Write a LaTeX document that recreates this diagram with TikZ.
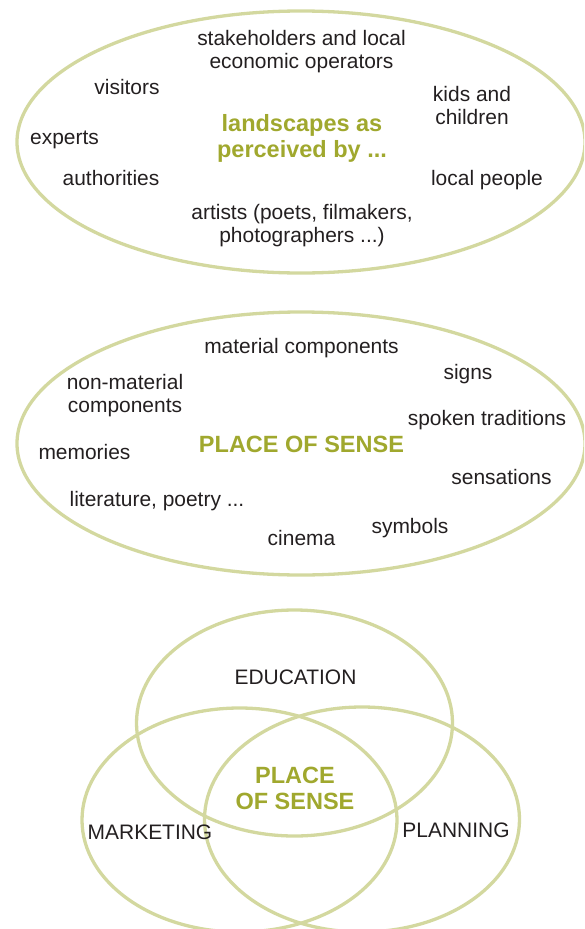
\documentclass[tikz,border=0pt]{standalone}
\usepackage{fontspec}
\setmainfont{Liberation Sans}
\definecolor{ring}{HTML}{D3D89F}
\definecolor{olive}{HTML}{A0A82E}
\definecolor{ink}{HTML}{231F20}
\tikzset{
  ringline/.style={draw=ring,line width=3.3pt},
  lab/.style={text=ink,font=\fontsize{20.95}{23}\selectfont,align=center,inner sep=0pt},
  head/.style={text=olive,font=\fontsize{23.5}{26}\selectfont\bfseries,align=center,inner sep=0pt}
}
\begin{document}
\begin{tikzpicture}[x=1pt,y=-1pt]
\useasboundingbox (0,0) rectangle (584,929);
\begin{scope}
\clip (0,0) rectangle (584,929);
\draw[ringline] (301,142) ellipse [x radius=284,y radius=131];
\draw[ringline] (301,443.5) ellipse [x radius=284,y radius=131.5];
\draw[ringline] (294.5,723) ellipse [x radius=158,y radius=113];
\draw[ringline] (239.5,820) ellipse [x radius=157.5,y radius=112];
\draw[ringline] (362,819.5) ellipse [x radius=157.5,y radius=112.5];
\end{scope}
\node[lab] (a1) at (301.5,51.5) {stakeholders and local\\economic operators};
\node[lab] (a2) at (127,87) {visitors};
\node[lab] (a3) at (472,105.5) {kids and\\children};
\node[lab] (a4) at (64.5,140) {experts};
\node[lab] (a5) at (111,178) {authorities};
\node[lab] (a6) at (487,180) {local people};
\node[lab] (a7) at (302,225.5) {artists (poets, filmakers,\\photographers ...)};
\node[head] (a8) at (302,138) {landscapes as\\perceived by ...};
\node[lab] (b1) at (301.5,348) {material components};
\node[lab] (b2) at (468,374) {signs};
\node[lab] (b3) at (125,395.5) {non-material\\components};
\node[lab] (b4) at (487,420) {spoken traditions};
\node[lab] (b5) at (84.5,452) {memories};
\node[lab] (b6) at (501.5,477) {sensations};
\node[lab] (b7) at (157,501) {literature, poetry ...};
\node[lab] (b8) at (410,528) {symbols};
\node[lab] (b9) at (301.5,538) {cinema};
\node[head] (b10) at (301.5,444) {PLACE OF SENSE};
\node[lab] (c1) at (295.5,677) {EDUCATION};
\node[lab] (c2) at (150,832) {MARKETING};
\node[lab] (c3) at (456,830) {PLANNING};
\node[head] (c4) at (295,788) {PLACE\\OF SENSE};
\end{tikzpicture}
\end{document}
